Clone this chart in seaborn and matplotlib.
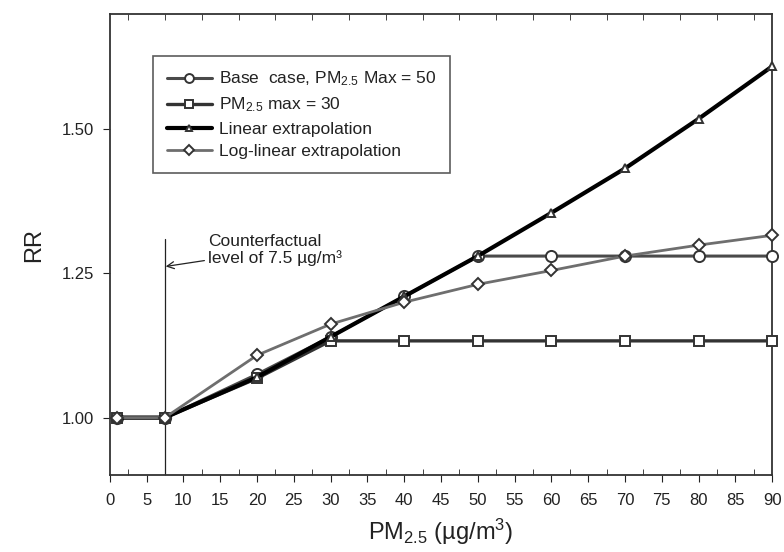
import numpy as np
import pandas as pd
import seaborn as sns
import matplotlib.pyplot as plt
from matplotlib.ticker import MultipleLocator

# PM2.5 concentrations (ug/m3)
pm25 = [1, 7.5, 20, 30, 40, 50, 60, 70, 80, 90]

# relative risk for each scenario
rr_base = [1.00, 1.00, 1.075, 1.14, 1.21, 1.28, 1.28, 1.28, 1.28, 1.28]
rr_max30 = [1.00, 1.00, 1.068, 1.133, 1.133, 1.133, 1.133, 1.133, 1.133, 1.133]
rr_linear = [1.00, 1.00, 1.07, 1.14, 1.21, 1.28, 1.355, 1.432, 1.518, 1.609]
rr_loglin = [1.00, 1.00, 1.108, 1.162, 1.200, 1.231, 1.255, 1.280, 1.299, 1.316]

labels = [
    r"Base  case, PM$_{\mathregular{2.5}}$ Max = 50",
    r"PM$_{\mathregular{2.5}}$ max = 30",
    "Linear extrapolation",
    "Log-linear extrapolation",
]

sns.set_style("ticks")
plt.rcParams["font.family"] = ["Liberation Sans", "DejaVu Sans"]
plt.rcParams["mathtext.fontset"] = "custom"
plt.rcParams["mathtext.rm"] = "Liberation Sans"
plt.rcParams["mathtext.it"] = "Liberation Sans"

fig = plt.figure(figsize=(7.84, 5.52), dpi=100)
ax = fig.add_axes([0.140, 0.139, 0.845, 0.836])

series = [
    (rr_base, "o", "#4a4a4a", 2.2, 8),
    (rr_max30, "s", "#333333", 2.4, 7.5),
    (rr_linear, "^", "#000000", 3.0, 6),
    (rr_loglin, "D", "#6e6e6e", 2.0, 6.5),
]

for (vals, mk, col, lw, ms), lab in zip(series, labels):
    df = pd.DataFrame({"pm": pm25, "rr": vals})
    sns.lineplot(data=df, x="pm", y="rr", ax=ax, color=col, linewidth=lw,
                 marker=mk, markersize=ms, markerfacecolor="white",
                 markeredgecolor="#333333", markeredgewidth=1.4,
                 label=lab, clip_on=False, zorder=3)

# counterfactual line
ax.plot([7.5, 7.5], [0.9, 1.31], color="#222222", linewidth=0.9, zorder=2)
ax.annotate("Counterfactual\nlevel of 7.5 µg/m³", xy=(7.6, 1.262),
            xytext=(13.3, 1.268), fontsize=12.5, color="#222222",
            linespacing=1.1,
            arrowprops=dict(arrowstyle="->", color="#222222", lw=0.9,
                            shrinkA=0, shrinkB=0))

ax.set_xlim(0, 90)
ax.set_ylim(0.90, 1.70)
ax.xaxis.set_major_locator(MultipleLocator(5))
ax.xaxis.set_minor_locator(MultipleLocator(2.5))
ax.set_yticks([1.00, 1.25, 1.50])
ax.set_yticklabels(["1.00", "1.25", "1.50"])
ax.tick_params(axis="x", which="major", direction="out", length=5, pad=8,
               labelsize=12, colors="#222222", top=False)
ax.tick_params(axis="x", which="minor", direction="in", length=4,
               top=True, bottom=True, colors="#222222")
ax.tick_params(axis="y", which="major", direction="out", length=5, pad=6,
               labelsize=12, colors="#222222")
for sp in ax.spines.values():
    sp.set_linewidth(1.3)
    sp.set_color("#333333")

ax.set_xlabel(r"PM$_{\mathregular{2.5}}$ (µg/m$^{\mathregular{3}}$)", fontsize=17,
              color="#222222", labelpad=6)
ax.set_ylabel("RR", fontsize=17, color="#222222", labelpad=12)

leg = ax.legend(loc="upper left", bbox_to_anchor=(0.065, 0.909), fontsize=12.5,
                frameon=True, fancybox=False, edgecolor="#333333",
                borderaxespad=0, handlelength=2.6, labelspacing=0.42,
                borderpad=0.8, handletextpad=0.4, markerscale=0.8)
leg.get_frame().set_linewidth(1.2)
for t in leg.get_texts():
    t.set_color("#222222")

fig.savefig("out.png", dpi=100)
